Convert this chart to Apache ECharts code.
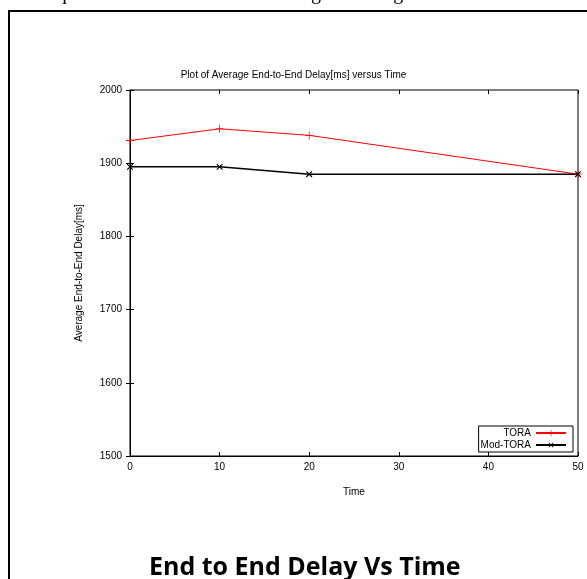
<!DOCTYPE html>
<html><head><meta charset="utf-8">
<script src="https://cdn.jsdelivr.net/npm/echarts@6/dist/echarts.min.js"></script>
<style>html,body{margin:0;padding:0;background:#fff}#c{width:587px;height:579px}</style>
</head><body><div id="c"></div>
<script>
const times = [0, 10, 20, 50];
const toraDelay = [1931, 1947, 1938, 1885];
const modToraDelay = [1895, 1895, 1885, 1885];
const xTicks = [0, 10, 20, 30, 40, 50];
const yTicks = [1500, 1600, 1700, 1800, 1900, 2000];

const FONT = 'Liberation Sans';
const plusPath = 'path://M0,4.5L10,4.5L10,5.5L0,5.5Z M4.5,0L5.5,0L5.5,10L4.5,10Z';
const crossPath = 'path://M0,4.3L10,4.3L10,5.7L0,5.7Z M4.3,0L5.7,0L5.7,10L4.3,10Z';

const chart = echarts.init(document.getElementById('c'));
function axTick() { return {show: true, inside: true, length: 4, lineStyle: {color: '#000'}}; }
chart.setOption({
  animation: false,
  backgroundColor: '#fff',
  title: {
    text: 'Plot of Average End-to-End Delay[ms] versus Time',
    left: 'center', top: 65,
    textStyle: {fontFamily: FONT, fontSize: 10, fontWeight: 'normal', color: '#000'}
  },
  graphic: [
    {type: 'text', left: 8, top: -16, style: {text: 'technique with TORA Protocol routing shows figure below.', font: '20px "Liberation Serif"', fill: '#000'}},
    {type: 'rect', shape: {x: 9, y: 11, width: 600, height: 600}, style: {fill: 'none', stroke: '#000', lineWidth: 2}, silent: true},
    {type: 'text', left: 149, top: 555, style: {text: 'End to End Delay Vs Time', font: 'bold 25px "Open Sans"', fill: '#000'}}
  ],
  grid: {left: 130, right: 9, top: 90, bottom: 123, show: true, borderColor: '#000', borderWidth: 1, backgroundColor: 'transparent'},
  legend: {
    right: 14, top: 426, orient: 'vertical', align: 'right',
    itemWidth: 30, itemHeight: 8, itemGap: 2,
    padding: [2, 6, 2, 2],
    borderColor: '#000', borderWidth: 1,
    textStyle: {fontFamily: FONT, fontSize: 10, color: '#000', padding: [0, 0, 0, 0]},
    data: ['TORA', 'Mod-TORA']
  },
  xAxis: [
    {type: 'value', min: xTicks[0], max: xTicks[xTicks.length - 1], interval: 10,
     name: 'Time', nameLocation: 'middle', nameGap: 31,
     nameTextStyle: {fontFamily: FONT, fontSize: 10, color: '#000'},
     axisLine: {show: true, lineStyle: {color: '#000'}}, axisTick: axTick(),
     axisLabel: {fontFamily: FONT, fontSize: 10, color: '#000', margin: 6},
     splitLine: {show: false}},
    {type: 'value', position: 'top', min: 0, max: 50, interval: 10,
     axisLine: {show: false}, axisTick: axTick(), axisLabel: {show: false}, splitLine: {show: false}}
  ],
  yAxis: [
    {type: 'value', min: yTicks[0], max: yTicks[yTicks.length - 1], interval: 100,
     name: 'Average End-to-End Delay[ms]', nameLocation: 'middle', nameGap: 46,
     nameTextStyle: {fontFamily: FONT, fontSize: 10, color: '#000'},
     axisLine: {show: true, lineStyle: {color: '#000'}}, axisTick: axTick(),
     axisLabel: {fontFamily: FONT, fontSize: 10, color: '#000', margin: 8, formatter: v => String(v)},
     splitLine: {show: false}},
    {type: 'value', position: 'right', min: 1500, max: 2000, interval: 100,
     axisLine: {show: false}, axisTick: axTick(), axisLabel: {show: false}, splitLine: {show: false}}
  ],
  series: [
    {name: 'TORA', type: 'line', data: times.map((t, i) => [t, toraDelay[i]]),
     color: '#ff0000', lineStyle: {width: 1, color: '#ff0000'},
     symbol: plusPath, symbolSize: 8, itemStyle: {color: '#ff0000'}, showAllSymbol: true},
    {name: 'Mod-TORA', type: 'line', data: times.map((t, i) => [t, modToraDelay[i]]),
     color: '#000', lineStyle: {width: 1.5, color: '#000'},
     symbol: crossPath, symbolRotate: 45, symbolSize: 8, itemStyle: {color: '#000'}, showAllSymbol: true}
  ]
});
</script></body></html>
